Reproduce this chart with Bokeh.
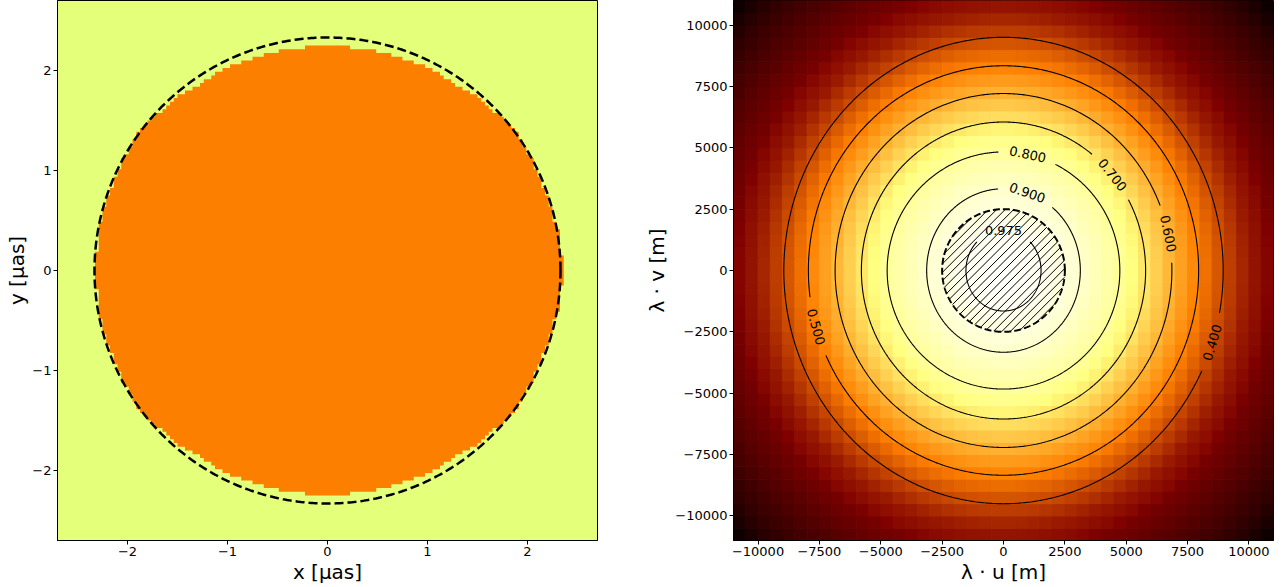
import numpy as np
from bokeh.plotting import figure
from bokeh.layouts import row
from bokeh.models import Range1d, FixedTicker, CustomJSTickFormatter
from bokeh.embed import file_html
from bokeh.resources import INLINE
from bokeh.core.properties import value

# ---------------- data: left panel (binary source image) ----------------
left_lim = [-2.7, 2.7]
left_ticks = [-2, -1, 0, 1, 2]
left_tick_labels = ["\u22122", "\u22121", "0", "1", "2"]
pixel_size = 0.0375                      # size of one image pixel [uas]
# half-width of the orange region versus |y| (read from the staircase edge)
disk_edge_y = [0.00, 0.17, 0.43, 0.63, 0.83, 1.00, 1.14, 1.24, 1.38, 1.48, 1.56,
               1.64, 1.71, 1.76, 1.80, 1.86, 1.94, 2.01, 2.05, 2.09, 2.16, 2.20, 2.24]
disk_edge_hw = [2.31, 2.31, 2.28, 2.24, 2.16, 2.09, 2.03, 1.96, 1.89, 1.79, 1.71,
                1.59, 1.54, 1.46, 1.39, 1.28, 1.16, 1.04, 0.96, 0.84, 0.63, 0.48, 0.15]
# small bulge on the right edge near y = 0
right_bulge_y = [0.16, 0.42]
right_bulge_x = [2.37, 2.33]
ring_radius = 2.33
bg_color = "#e4ff7a"
disk_color = "#fc7f00"

# ---------------- data: right panel (visibility amplitude) ----------------
uv_lim = [-11000, 11000]
uv_ticks = [-10000, -7500, -5000, -2500, 0, 2500, 5000, 7500, 10000]
uv_tick_labels = ["\u221210000", "\u22127500", "\u22125000", "\u22122500", "0",
                  "2500", "5000", "7500", "10000"]
cell_size = 500
contour_levels = [0.975, 0.9, 0.8, 0.7, 0.6, 0.5, 0.4]
contour_texts = ["0.975", "0.900", "0.800", "0.700", "0.600", "0.500", "0.400"]
contour_rx = [1530, 3130, 4740, 5790, 6860, 7950, 8950]
contour_ry = [1650, 3330, 4830, 6050, 7210, 8340, 9500]
label_pos_deg = [90, 72, 78, 40, 12, 196, -18]
# radial amplitude profile (u-equivalent radius, metres)
profile_r = [0, 1530, 3130, 4740, 5790, 6860, 7950, 8950, 10000, 10750, 11070,
             12100, 13870, 14820, 16000]
profile_amp = [1.0, 0.975, 0.9, 0.8, 0.7, 0.6, 0.5, 0.4, 0.30, 0.26, 0.23,
               0.18, 0.095, 0.03, 0.0]
v_stretch = 0.95
hatched_radius = 2500
hatch_step = 345

FRAME = 540
BOTTOM = 47


def style(p, xlabel, ylabel, ticks, labels, ylab_standoff=3):
    fmt = CustomJSTickFormatter(args=dict(tvals=list(ticks), tlabs=list(labels)), code="""
        for (let i = 0; i < tvals.length; i++) {
            if (Math.abs(tvals[i] - tick) < 1e-6) return tlabs[i];
        }
        return String(tick);
    """)
    p.xaxis.axis_label = xlabel
    p.yaxis.axis_label = ylabel
    for ax in p.axis:
        ax.ticker = FixedTicker(ticks=ticks)
        ax.formatter = fmt
        ax.axis_label_text_font = "DejaVu Sans"
        ax.axis_label_text_font_size = "20px"
        ax.axis_label_text_font_style = "normal"
        ax.axis_label_text_color = "black"
        ax.major_label_text_font = "DejaVu Sans"
        ax.major_label_text_font_size = "13px"
        ax.major_label_text_color = "black"
        ax.major_tick_out = 4
        ax.major_tick_in = 0
        ax.minor_tick_out = 0
        ax.minor_tick_in = 0
        ax.major_tick_line_color = "black"
        ax.axis_line_color = "black"
        ax.major_label_standoff = 2
        ax.axis_label_standoff = 1
    p.yaxis.axis_label_standoff = ylab_standoff
    p.grid.visible = False
    p.outline_line_color = "black"
    p.outline_line_width = 1


# ================= left panel =================
L1, R1 = 57, 20
p1 = figure(width=L1 + FRAME + R1, height=FRAME + BOTTOM,
            x_range=Range1d(*left_lim), y_range=Range1d(*left_lim),
            output_backend="svg", toolbar_location=None,
            min_border_left=L1, min_border_right=R1, min_border_top=0, min_border_bottom=BOTTOM)
p1.background_fill_color = bg_color

n_pix = int(round((left_lim[1] - left_lim[0]) / pixel_size))
edges = left_lim[0] + pixel_size * np.arange(n_pix + 1)
centers = 0.5 * (edges[:-1] + edges[1:])
rows = []
for j in range(n_pix - 1, -1, -1):          # top to bottom
    yc = centers[j]
    ay = abs(yc)
    if ay > disk_edge_y[-1]:
        continue
    hw = float(np.interp(ay, disk_edge_y, disk_edge_hw))
    hr = hw
    for by, bx in zip(right_bulge_y, right_bulge_x):
        if ay <= by:
            hr = max(hr, bx)
    inside_l = np.where(centers >= -hw)[0]
    inside_r = np.where(centers <= hr)[0]
    xl = edges[inside_l[0]]
    xr = edges[inside_r[-1] + 1]
    rows.append((edges[j + 1], edges[j], xl, xr))
px, py = [], []
for top, bot, xl, xr in rows:
    px += [xr, xr]
    py += [top, bot]
for top, bot, xl, xr in reversed(rows):
    px += [xl, xl]
    py += [bot, top]
p1.patch(px, py, fill_color=disk_color, line_color=None)

tt = np.linspace(0, 2 * np.pi, 721)
p1.line(ring_radius * np.cos(tt), ring_radius * np.sin(tt),
        line_color="black", line_width=2.5, line_dash="9 4")
style(p1, "x [\u03bcas]", "y [\u03bcas]", left_ticks, left_tick_labels, ylab_standoff=0)

# ================= right panel =================
L2 = 733 - (L1 + FRAME + R1)
R2 = 1287 - 733 - FRAME
p2 = figure(width=L2 + FRAME + R2, height=FRAME + BOTTOM,
            x_range=Range1d(*uv_lim), y_range=Range1d(*uv_lim),
            output_backend="svg", toolbar_location=None,
            min_border_left=L2, min_border_right=R2, min_border_top=0, min_border_bottom=BOTTOM)

ce = np.arange(uv_lim[0], uv_lim[1] + cell_size / 2, cell_size)
cc = 0.5 * (ce[:-1] + ce[1:])
U, V = np.meshgrid(cc, cc)
A = np.interp(np.hypot(U, V * v_stretch), profile_r, profile_amp)


def afmhot(a):
    r = np.clip(2 * a, 0, 1)
    g = np.clip(2 * a - 0.5, 0, 1)
    b = np.clip(2 * a - 1, 0, 1)
    return "#%02x%02x%02x" % (int(round(r * 255)), int(round(g * 255)), int(round(b * 255)))


cols = [afmhot(a) for a in A.ravel()]
Uf, Vf = U.ravel(), V.ravel()
p2.quad(left=Uf - cell_size / 2, right=Uf + cell_size / 2,
        bottom=Vf - cell_size / 2, top=Vf + cell_size / 2,
        fill_color=cols, line_color=cols, line_width=1)

px_per_m = FRAME / (uv_lim[1] - uv_lim[0])
gap_px = 29
for txt, rx, ry, tdeg in zip(contour_texts, contour_rx, contour_ry, label_pos_deg):
    xs = rx * np.cos(tt)
    ys = ry * np.sin(tt)
    t0 = np.radians(tdeg)
    lx, ly = rx * np.cos(t0), ry * np.sin(t0)
    d = np.hypot(xs - lx, ys - ly) * px_per_m
    xs = np.where(d < gap_px, np.nan, xs)
    ys = np.where(d < gap_px, np.nan, ys)
    p2.line(xs, ys, line_color="black", line_width=1.1)
    ang = np.arctan2(ry * np.cos(t0), -rx * np.sin(t0))
    while ang > np.pi / 2:
        ang -= np.pi
    while ang <= -np.pi / 2:
        ang += np.pi
    p2.text(x=[lx], y=[ly], text=[txt], angle=[ang], text_align="center",
            text_baseline="middle", text_font=value("DejaVu Sans"),
            text_font_size="13px", text_color="black")

# hatched disc
R = hatched_radius
x0s, y0s, x1s, y1s = [], [], [], []
c = -np.floor(R * np.sqrt(2) / hatch_step) * hatch_step
while c <= R * np.sqrt(2):
    disc = 2 * R * R - c * c
    if disc > 0:
        s = np.sqrt(disc)
        u1, u2 = (-c - s) / 2, (-c + s) / 2
        x0s.append(u1); y0s.append(u1 + c)
        x1s.append(u2); y1s.append(u2 + c)
    c += hatch_step
p2.segment(x0=x0s, y0=y0s, x1=x1s, y1=y1s, line_color="black", line_width=1)
p2.line(R * np.cos(tt), R * np.sin(tt), line_color="black", line_width=2, line_dash="7 3")

style(p2, "\u03bb \u00b7 u [m]", "\u03bb \u00b7 v [m]", uv_ticks, uv_tick_labels)

layout = row(p1, p2)
open("out.html", "w").write(file_html(layout, INLINE))
